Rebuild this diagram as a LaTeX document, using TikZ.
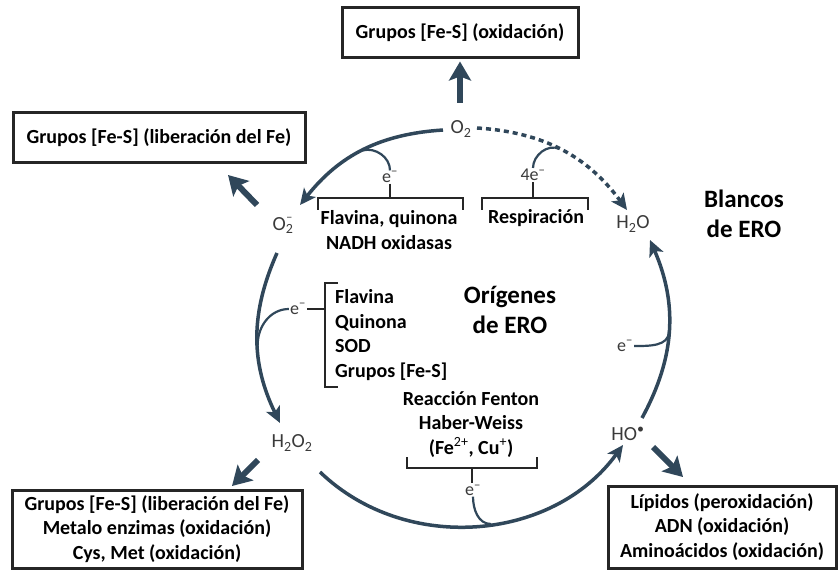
\documentclass[tikz,border=0pt]{standalone}
\usepackage{fontspec}
\setmainfont{Carlito}
\usetikzlibrary{arrows.meta,calc}
\definecolor{arr}{HTML}{30475A}
\definecolor{lbl}{HTML}{3A3A3A}
\definecolor{frm}{HTML}{262626}
\begin{document}
\begin{tikzpicture}[x=1pt,y=1pt,
  box/.style={draw=frm,line width=3pt,fill=white,font=\fontsize{20}{24.5}\selectfont\bfseries,align=center,inner sep=0pt},
  txt/.style={font=\fontsize{20}{24.5}\selectfont\bfseries,align=center,inner sep=0pt},
  txtl/.style={font=\fontsize{20}{24.7}\selectfont\bfseries,align=left,inner sep=0pt},
  big/.style={font=\fontsize{25}{29.5}\selectfont\bfseries,align=center,inner sep=0pt},
  chem/.style={font=\fontsize{20}{22}\selectfont,text=lbl,inner sep=1pt},
  elec/.style={font=\fontsize{18}{20}\selectfont,text=lbl,inner sep=1pt},
  flow/.style={draw=arr,line width=3.5pt,-{Stealth[length=16pt,width=15pt,inset=4pt]}},
  dotflow/.style={flow,dash pattern=on 5pt off 4pt},
  bigarrow/.style={draw=arr,line width=6pt,-{Stealth[length=19pt,width=22pt,inset=4pt]}},
  ecurve/.style={draw=arr,line width=2.2pt},
  brk/.style={draw=frm,line width=2.6pt},
]
\useasboundingbox (0,0) rectangle (838,571);

% boxes
\node[box,minimum width=236,minimum height=50] (tbox) at (460,538) {Grupos [Fe-S] (oxidación)};
\node[box,minimum width=292,minimum height=50] (lbox) at (159,433) {Grupos [Fe-S] (liberación del Fe)};
\node[box,minimum width=290,minimum height=78] (blbox) at (157,42) {Grupos [Fe-S] (liberación del Fe)\\Metalo enzimas (oxidación)\\Cys, Met (oxidación)};
\node[box,minimum width=228,minimum height=82] (brbox) at (722,44) {Lípidos (peroxidación)\\ADN (oxidación)\\Aminoácidos (oxidación)};

% species
\node[chem] (o2) at (461,442) {O\textsubscript{2}};
\node[chem] (h2o) at (633,347) {H\textsubscript{2}O};
\node[chem] (o2m) at (284,346) {O\textsubscript{2}\rlap{\raisebox{9pt}{\fontsize{12}{12}\selectfont\kern-7pt−}}\kern2pt};
\node[chem] (h2o2) at (292,128) {H\textsubscript{2}O\textsubscript{2}};
\node[chem] (ho) at (628,137) {HO\textsuperscript{•}};

% titles
\node[big] (blancos) at (744,357) {Blancos\\de ERO};
\node[big] (orig) at (510,261) {Orígenes\\de ERO};

% source texts
\node[txt] (fq) at (389,341) {Flavina, quinona\\NADH oxidasas};
\node[txt] (resp) at (536,353) {Respiración};
\node[txtl,anchor=west] (list) at (335,236) {Flavina\\Quinona\\SOD\\Grupos [Fe-S]};
\node[txt] (fenton) at (471,147) {Reacción Fenton\\Haber-Weiss\\(Fe{\mdseries\textsuperscript{2+}}, Cu{\mdseries\textsuperscript{+}})};

% electron labels
\node[elec] (e1) at (390,394) {e\textsuperscript{−}};
\node[elec] (e2) at (533,396) {4e\textsuperscript{−}};
\node[elec] (e3) at (298,262) {e\textsuperscript{−}};
\node[elec] (e4) at (473,81) {e\textsuperscript{−}};
\node[elec] (e5) at (625,225) {e\textsuperscript{−}};

% cycle arcs
\draw[flow] ($(o2)+(-18,-1)$) to[bend right=24] coordinate[pos=0.5] (p1) ($(o2m)+(16,20)$);
\draw[flow] ($(o2m)+(-7,-28)$) to[bend right=25] coordinate[pos=0.54] (p3) ($(h2o2)+(-12,20)$);
\draw[flow] ($(h2o2)+(28,-29)$) to[bend right=49] coordinate[pos=0.54] (p4) ($(ho)+(-5,-11)$);
\draw[flow] ($(ho)+(14,16)$) to[bend right=26] coordinate[pos=0.49] (p5) ($(h2o)+(17,-16)$);
\draw[dotflow] ($(o2)+(16,1)$) to[bend left=25] coordinate[pos=0.48] (p2) ($(h2o)+(-6,14)$);

% outgoing arrows
\draw[bigarrow,shorten >=2pt] ($(o2)+(-1,26)$) -- (tbox.south);
\draw[bigarrow] ($(o2m)+(-27,20)$) -- ($(o2m)+(-56,50)$);
\draw[bigarrow] ($(h2o2)+(-34,-17)$) -- ($(h2o2)+(-60,-43)$);
\draw[bigarrow] ($(ho)+(25,-13)$) -- ($(ho)+(55,-43)$);

% electron curves
\draw[ecurve] (e1.north) to[out=90,in=15] (p1);
\draw[ecurve] (e2.north) to[out=90,in=155] (p2);
\draw[ecurve] (e3.west) to[out=180,in=90] (p3);
\draw[ecurve] (e4.south) to[out=-90,in=180] (p4);
\draw[ecurve] (e5.east) to[out=0,in=-90] (p5);

% brackets
\coordinate (b1) at (390,373);
\draw[brk] ($(b1)+(-72,-12)$) -- ++(0,12) -- ++(145,0) -- ++(0,-12);
\draw[brk] (e1.south) -- (e1.south|-b1);
\coordinate (b2) at (535,373);
\draw[brk] ($(b2)+(-53,-12)$) -- ++(0,12) -- ++(106,0) -- ++(0,-12);
\draw[brk] (e2.south) -- (e2.south|-b2);
\coordinate (b3) at (325,236);
\draw[brk] ($(b3)+(13,52)$) -- ++(-13,0) -- ++(0,-104) -- ++(13,0);
\draw[brk] (e3.east) -- (e3.east-|b3);
\coordinate (b4) at (472,103);
\draw[brk] ($(b4)+(-65,11)$) -- ++(0,-11) -- ++(130,0) -- ++(0,11);
\draw[brk] (b4) -- (b4|-e4.north);
\end{tikzpicture}
\end{document}
